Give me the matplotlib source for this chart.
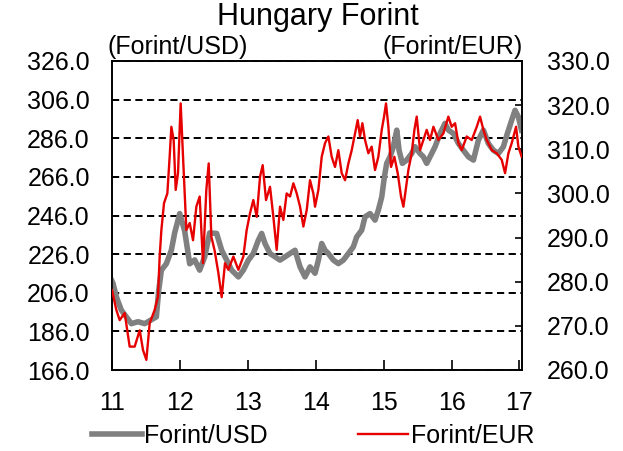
import matplotlib

matplotlib.use("Agg")
import matplotlib.pyplot as plt
from matplotlib.lines import Line2D

plt.rcParams["font.family"] = ["Liberation Sans", "DejaVu Sans"]

# values (x = decimal year, 11 = 2011)
usd_year = [
    11.000, 11.015, 11.064, 11.137, 11.211, 11.285, 11.383, 11.481, 11.579, 11.653,
    11.687, 11.727, 11.800, 11.874, 11.923, 11.997, 12.070, 12.144, 12.218, 12.291,
    12.365, 12.438, 12.541, 12.615, 12.689, 12.762, 12.861, 12.934, 13.008, 13.081,
    13.155, 13.204, 13.253, 13.327, 13.401, 13.474, 13.548, 13.621, 13.695, 13.769,
    13.842, 13.916, 13.990, 14.039, 14.088, 14.137, 14.186, 14.260, 14.333, 14.407,
    14.481, 14.554, 14.603, 14.677, 14.726, 14.800, 14.873, 14.922, 14.972, 15.011,
    15.045, 15.094, 15.143, 15.193, 15.227, 15.276, 15.340, 15.413, 15.462, 15.536,
    15.585, 15.634, 15.683, 15.757, 15.831, 15.904, 15.953, 16.027, 16.101, 16.174,
    16.248, 16.322, 16.395, 16.469, 16.542, 16.616, 16.690, 16.763, 16.822, 16.886,
    16.935, 16.984, 17.030,
]
usd_rate = [
    212.0, 210.8, 203.9, 197.0, 193.5, 190.0, 191.0, 190.0, 192.0, 193.5,
    207.0, 217.7, 221.0, 228.0, 237.0, 247.0, 238.0, 221.0, 223.0, 217.7,
    224.6, 237.0, 236.7, 228.0, 222.9, 217.7, 214.2, 217.7, 222.9, 226.3,
    233.2, 236.7, 231.5, 226.3, 224.6, 222.9, 224.6, 226.3, 228.0, 219.4,
    214.2, 219.4, 216.1, 222.9, 231.5, 228.0, 226.3, 222.9, 221.1, 222.9,
    226.3, 229.8, 234.9, 238.4, 245.3, 247.0, 243.6, 248.8, 255.6, 266.0,
    273.0, 276.4, 281.6, 290.2, 279.8, 273.0, 274.7, 278.1, 281.6, 278.1,
    276.4, 273.0, 276.4, 281.6, 288.5, 293.7, 290.2, 288.5, 283.3, 279.8,
    276.4, 274.7, 285.0, 290.2, 283.3, 279.8, 278.1, 281.6, 288.5, 295.4,
    300.5, 297.1, 290.2,
]

eur_year = [
    11.000, 11.064, 11.113, 11.187, 11.260, 11.334, 11.408, 11.457, 11.506, 11.555,
    11.628, 11.677, 11.702, 11.727, 11.766, 11.815, 11.849, 11.874, 11.908, 11.938,
    11.972, 12.011, 12.046, 12.095, 12.144, 12.193, 12.242, 12.291, 12.340, 12.389,
    12.424, 12.463, 12.512, 12.566, 12.615, 12.664, 12.713, 12.787, 12.861, 12.934,
    12.983, 13.032, 13.081, 13.131, 13.180, 13.219, 13.268, 13.327, 13.376, 13.425,
    13.474, 13.523, 13.572, 13.622, 13.671, 13.720, 13.769, 13.818, 13.867, 13.916,
    13.965, 13.990, 14.039, 14.088, 14.137, 14.186, 14.235, 14.284, 14.333, 14.382,
    14.432, 14.481, 14.530, 14.579, 14.618, 14.652, 14.687, 14.726, 14.775, 14.824,
    14.873, 14.922, 14.972, 15.006, 15.035, 15.070, 15.109, 15.158, 15.207, 15.256,
    15.291, 15.325, 15.364, 15.413, 15.453, 15.487, 15.536, 15.585, 15.634, 15.683,
    15.733, 15.806, 15.880, 15.953, 16.002, 16.052, 16.101, 16.150, 16.223, 16.297,
    16.371, 16.420, 16.469, 16.518, 16.592, 16.665, 16.739, 16.788, 16.837, 16.886,
    16.950, 16.984, 17.033,
]
eur_rate = [
    278.1, 273.6, 271.3, 272.9, 265.3, 265.3, 269.0, 264.5, 262.3, 270.6,
    273.6, 276.6, 285.7, 291.7, 297.8, 300.0, 308.3, 315.1, 312.1, 300.8,
    304.6, 320.4, 308.3, 291.7, 293.3, 289.4, 297.0, 299.3, 284.2, 300.8,
    306.8, 290.2, 287.0, 282.0, 276.5, 284.2, 282.7, 285.7, 282.7, 285.7,
    291.7, 295.5, 298.5, 294.7, 303.8, 306.4, 298.5, 301.5, 294.7, 287.2,
    297.0, 294.0, 300.0, 299.3, 302.3, 300.0, 297.0, 292.5, 296.2, 303.0,
    300.0, 297.0, 300.8, 308.3, 311.4, 312.9, 308.3, 306.0, 309.8, 304.6,
    303.0, 306.8, 309.8, 313.6, 316.6, 312.9, 315.9, 312.1, 309.1, 310.6,
    305.3, 308.3, 314.4, 317.4, 320.4, 315.1, 306.0, 308.3, 304.6, 299.3,
    297.0, 300.8, 305.3, 309.1, 314.4, 317.4, 309.8, 312.1, 314.4, 312.1,
    315.1, 312.1, 313.6, 317.4, 315.1, 315.9, 311.4, 309.8, 312.9, 312.1,
    315.1, 317.4, 314.4, 312.1, 309.8, 309.1, 307.6, 304.6, 309.1, 311.4,
    315.1, 310.6, 308.3,
]

year_ticks = [11, 12, 13, 14, 15, 16, 17]
usd_ticks = [166, 186, 206, 226, 246, 266, 286, 306, 326]
eur_ticks = [260, 270, 280, 290, 300, 310, 320, 330]

GRAY = "#808080"
RED = "#e60000"

fig = plt.figure(figsize=(6.23, 4.51), dpi=100)
ax = fig.add_axes([112 / 623, 81 / 451, 409.5 / 623, 309 / 451])
ax2 = ax.twinx()

ax.plot(usd_year, usd_rate, color=GRAY, lw=4.0, solid_joinstyle="round", zorder=3)
ax2.plot(eur_year, eur_rate, color=RED, lw=1.7, solid_joinstyle="round", zorder=3)

ax.set_xlim(11, 17.03)
ax.set_ylim(166, 326)
ax2.set_ylim(260, 330)

ax.set_xticks(year_ticks)
ax.set_xticklabels([str(y) for y in year_ticks])
ax.set_yticks(usd_ticks)
ax.set_yticklabels([f"{v:.1f}" for v in usd_ticks])
ax2.set_yticks(eur_ticks)
ax2.set_yticklabels([f"{v:.1f}" for v in eur_ticks])

ax.set_axisbelow(True)
ax.yaxis.grid(True, color="black", lw=1.4, ls=(0, (3.7, 2.3)))

ax.tick_params(axis="x", direction="in", length=7, width=1.2, pad=15, labelsize=18)
ax.tick_params(axis="y", direction="in", length=5, width=1.2, pad=16, labelsize=18)
ax2.tick_params(axis="y", direction="in", length=5, width=1.2, pad=18, labelsize=18)

for a in (ax, ax2):
    for spine in a.spines.values():
        spine.set_color("black")
        spine.set_linewidth(1.2)

fig.text(318 / 623, 1 - 25 / 451, "Hungary Forint", ha="center", va="baseline", fontsize=22)
fig.text(108 / 623, 1 - 54 / 451, "(Forint/USD)", ha="left", va="baseline", fontsize=18)
fig.text(523 / 623, 1 - 54 / 451, "(Forint/EUR)", ha="right", va="baseline", fontsize=18)

handles = [
    Line2D([], [], color=GRAY, lw=4.0),
    Line2D([], [], color=RED, lw=1.7),
]
fig.legend(
    handles,
    ["Forint/USD", "Forint/EUR"],
    loc="center left",
    bbox_to_anchor=(92 / 623, 1 - 436 / 451),
    ncol=2,
    frameon=False,
    fontsize=18,
    handlelength=2.0,
    handletextpad=0.1,
    columnspacing=3.6,
    borderpad=0,
    borderaxespad=0,
)

fig.savefig("out.png", dpi=100)
